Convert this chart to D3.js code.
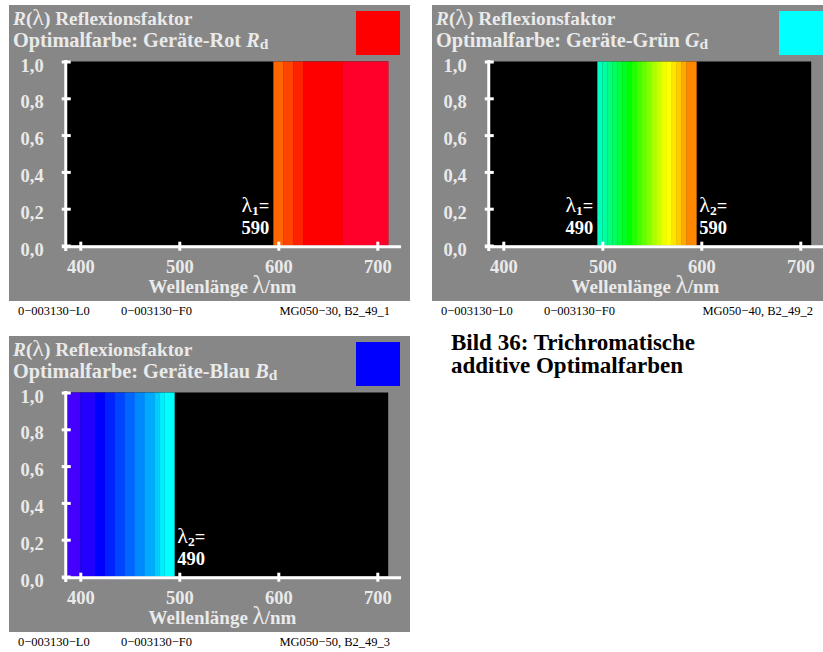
<!DOCTYPE html>
<html>
<head>
<meta charset="utf-8">
<script src="https://cdn.jsdelivr.net/npm/d3@7"></script>
<style>
  body { margin: 0; background: #fff; }
  text { font-family: "Liberation Serif", "Times New Roman", serif; }
</style>
</head>
<body>
<div id="chart"></div>
<script>
//*********************** DATA ***********************
var panelNames = ["Geräte-Rot", "Geräte-Grün", "Geräte-Blau"],
    panelSymbols = ["R", "G", "B"],
    swatchColors = ["#ff0000", "#00ffff", "#0000ff"],
    footerLeft = ["0\u2212003130\u2212L0", "0\u2212003130\u2212L0", "0\u2212003130\u2212L0"],
    footerMid = ["0\u2212003130\u2212F0", "0\u2212003130\u2212F0", "0\u2212003130\u2212F0"],
    footerRight = ["MG050\u221230, B2_49_1", "MG050\u221240, B2_49_2", "MG050\u221250, B2_49_3"],
    lambda1 = [590, 490, null],
    lambda2 = [null, 590, 490];

// spectral range drawn (black = reflectance 0)
var spectrumRange = [386, 711];

// band edges (nm) and colours, reflectance 1 inside the band
var redEdges = [595, 605, 615, 625, 665, 711],
    redColors = ["#ff6600", "#ff4400", "#ff2200", "#ff0000", "#ff0028"];

var greenEdges = [495, 500, 505, 510, 515, 520, 525, 530, 535, 540, 545, 550, 555, 560, 565, 570, 575, 580, 585, 595],
    greenColors = ["#00ffc0", "#00ffa0", "#00ff80", "#00ff60", "#00ff40", "#00ff20", "#00ff00", "#22ff00",
                   "#44ff00", "#66ff00", "#88ff00", "#aaff00", "#ccff00", "#eeff00", "#ffff00", "#ffe600",
                   "#ffcc00", "#ffaa00", "#ff8800"];

var blueEdges = [386, 400, 415, 425, 435, 445, 455, 465, 475, 480, 485, 495],
    blueColors = ["#4400ff", "#2200ff", "#0000ff", "#0022ff", "#0044ff", "#0066ff", "#0088ff",
                  "#00aaff", "#00ccff", "#00eeff", "#00ffff"];

var bandEdges = [redEdges, greenEdges, blueEdges],
    bandColors = [redColors, greenColors, blueColors],
    reflectance = [1, 1, 1];

var xTicks = [400, 500, 600, 700],
    yTicks = [0, 0.2, 0.4, 0.6, 0.8, 1.0];

var captionLines = ["Bild 36: Trichromatische", "additive Optimalfarben"];

//*********************** LAYOUT ***********************
var width = 823,
    height = 652,
    panelW = 401,
    panelH = 296,
    offsets = [[9, 5], [432, 5], [9, 336]],
    grey = "#878787",
    textGrey = "#eaeaea";

var xScale = d3.scaleLinear().domain([400, 700]).range([71.3, 368.3]),
    yScale = d3.scaleLinear().domain([0, 1]).range([240.5, 56.5]),
    axisExtent = [381.5, 724];

var fmt = d3.formatLocale({decimal: ",", thousands: ".", grouping: [3], currency: ["", ""]}).format(".1f");

var svg = d3.select("#chart").append("svg")
    .attr("width", width)
    .attr("height", height);

var defs = svg.append("defs");

panelNames.forEach(function(name, i) {
  defs.append("clipPath").attr("id", "clip" + i)
    .append("rect").attr("width", Math.min(panelW, width - offsets[i][0])).attr("height", panelH + 40);

  var g = svg.append("g")
    .attr("transform", "translate(" + offsets[i][0] + "," + offsets[i][1] + ")")
    .attr("clip-path", "url(#clip" + i + ")");

  g.append("rect")
    .attr("width", panelW)
    .attr("height", panelH)
    .attr("fill", grey);

  // swatch
  g.append("rect")
    .attr("x", 347).attr("y", 6)
    .attr("width", 44).attr("height", 44)
    .attr("fill", swatchColors[i]);

  // title lines
  var t1 = g.append("text").attr("x", 4).attr("y", 20)
    .attr("fill", textGrey).attr("font-size", 19.3).attr("font-weight", "bold");
  t1.append("tspan").attr("font-style", "italic").text("R");
  t1.append("tspan").text("(");
  t1.append("tspan").attr("font-weight", "normal").attr("font-size", 24).text("\u03bb");
  t1.append("tspan").text(") Reflexionsfaktor");

  var t2 = g.append("text").attr("x", 4).attr("y", 42)
    .attr("fill", textGrey).attr("font-size", 20.3).attr("font-weight", "bold");
  t2.append("tspan").text("Optimalfarbe: " + name + " ");
  t2.append("tspan").attr("font-style", "italic").text(panelSymbols[i]);
  t2.append("tspan").attr("font-size", 15.5).attr("dy", 2).text("d");

  // black plot area (reflectance 0)
  g.append("rect")
    .attr("x", xScale(spectrumRange[0]))
    .attr("y", yScale(1))
    .attr("width", xScale(spectrumRange[1]) - xScale(spectrumRange[0]))
    .attr("height", yScale(0) - yScale(1))
    .attr("fill", "#000");

  // spectral bands
  var edges = bandEdges[i],
      bands = bandColors[i].map(function(c, k) {
        return {x0: edges[k], x1: edges[k + 1], color: c, r: reflectance[i]};
      });

  g.selectAll("rect.band")
    .data(bands)
    .enter().append("rect")
    .attr("class", "band")
    .attr("x", function(d) { return xScale(d.x0); })
    .attr("y", function(d) { return yScale(d.r); })
    .attr("width", function(d) { return xScale(d.x1) - xScale(d.x0) + 0.3; })
    .attr("height", function(d) { return yScale(0) - yScale(d.r); })
    .attr("fill", function(d) { return d.color; });

  // x axis
  var xAx = g.append("g")
    .attr("transform", "translate(0," + (yScale(0) + 1.2) + ")")
    .call(d3.axisBottom(xScale).tickValues(xTicks).tickFormat(d3.format("d")));
  xAx.select(".domain").remove();
  xAx.selectAll(".tick line")
    .attr("y1", -5).attr("y2", 4)
    .attr("stroke", "#fff").attr("stroke-width", 3);
  xAx.selectAll(".tick text")
    .attr("y", 26).attr("dy", null)
    .attr("fill", textGrey).attr("font-size", 18.5).attr("font-weight", "bold")
    .attr("font-family", "Liberation Serif");
  xAx.append("line")
    .attr("x1", xScale(axisExtent[0])).attr("x2", xScale(axisExtent[1]))
    .attr("stroke", "#fff").attr("stroke-width", 3);

  // y axis
  var yAx = g.append("g")
    .attr("transform", "translate(" + xScale(385.3) + ",0)")
    .call(d3.axisLeft(yScale).tickValues(yTicks).tickFormat(fmt));
  yAx.select(".domain").remove();
  yAx.selectAll(".tick line")
    .attr("x1", -4).attr("x2", 5)
    .attr("stroke", "#fff").attr("stroke-width", 3);
  yAx.selectAll(".tick text")
    .attr("x", -22).attr("dy", 9.5)
    .attr("text-anchor", "end")
    .attr("fill", textGrey).attr("font-size", 18.5).attr("font-weight", "bold")
    .attr("font-family", "Liberation Serif");
  yAx.append("line")
    .attr("y1", yScale(1) - 1.5).attr("y2", yScale(0) + 5.5)
    .attr("stroke", "#fff").attr("stroke-width", 3);

  // x axis label
  var xl = g.append("text")
    .attr("x", (xScale(axisExtent[0]) + xScale(axisExtent[1])) / 2 - 9)
    .attr("y", yScale(0) + 47)
    .attr("text-anchor", "middle")
    .attr("fill", textGrey).attr("font-size", 19).attr("font-weight", "bold");
  xl.append("tspan").text("Wellenlänge ");
  xl.append("tspan").attr("font-weight", "normal").attr("font-size", 25).text("\u03bb");
  xl.append("tspan").text("/nm");

  // boundary wavelength labels
  function lambdaLabel(value, sub, anchorEnd) {
    var x = anchorEnd ? xScale(value + 5) - 4 : xScale(value + 5) + 3;
    var a = g.append("text")
      .attr("x", x).attr("y", yScale(0) - 34)
      .attr("text-anchor", anchorEnd ? "end" : "start")
      .attr("fill", "#fff").attr("font-size", 18.5).attr("font-weight", "bold");
    a.append("tspan").attr("font-weight", "normal").attr("font-size", 22).text("\u03bb");
    a.append("tspan").attr("font-size", 13.5).attr("dy", 3).text(sub);
    a.append("tspan").attr("dy", -3).text("=");
    g.append("text")
      .attr("x", x).attr("y", yScale(0) - 12)
      .attr("text-anchor", anchorEnd ? "end" : "start")
      .attr("fill", "#fff").attr("font-size", 18.5).attr("font-weight", "bold")
      .text(value);
  }
  if (lambda1[i] != null) lambdaLabel(lambda1[i], "1", true);
  if (lambda2[i] != null) lambdaLabel(lambda2[i], "2", false);

  // footer codes
  var fy = panelH + 14;
  g.append("text").attr("x", 9).attr("y", fy).attr("font-size", 12.5).attr("fill", "#000").text(footerLeft[i]);
  g.append("text").attr("x", 112).attr("y", fy).attr("font-size", 12.5).attr("fill", "#000").text(footerMid[i]);
  g.append("text").attr("x", 381).attr("y", fy).attr("text-anchor", "end")
    .attr("font-size", 12.5).attr("fill", "#000").text(footerRight[i]);
});

// caption
svg.append("g").selectAll("text")
  .data(captionLines)
  .enter().append("text")
  .attr("x", 451)
  .attr("y", function(d, k) { return 350 + k * 23; })
  .attr("font-size", 23)
  .attr("font-weight", "bold")
  .attr("fill", "#000")
  .text(function(d) { return d; });
</script>
</body>
</html>
